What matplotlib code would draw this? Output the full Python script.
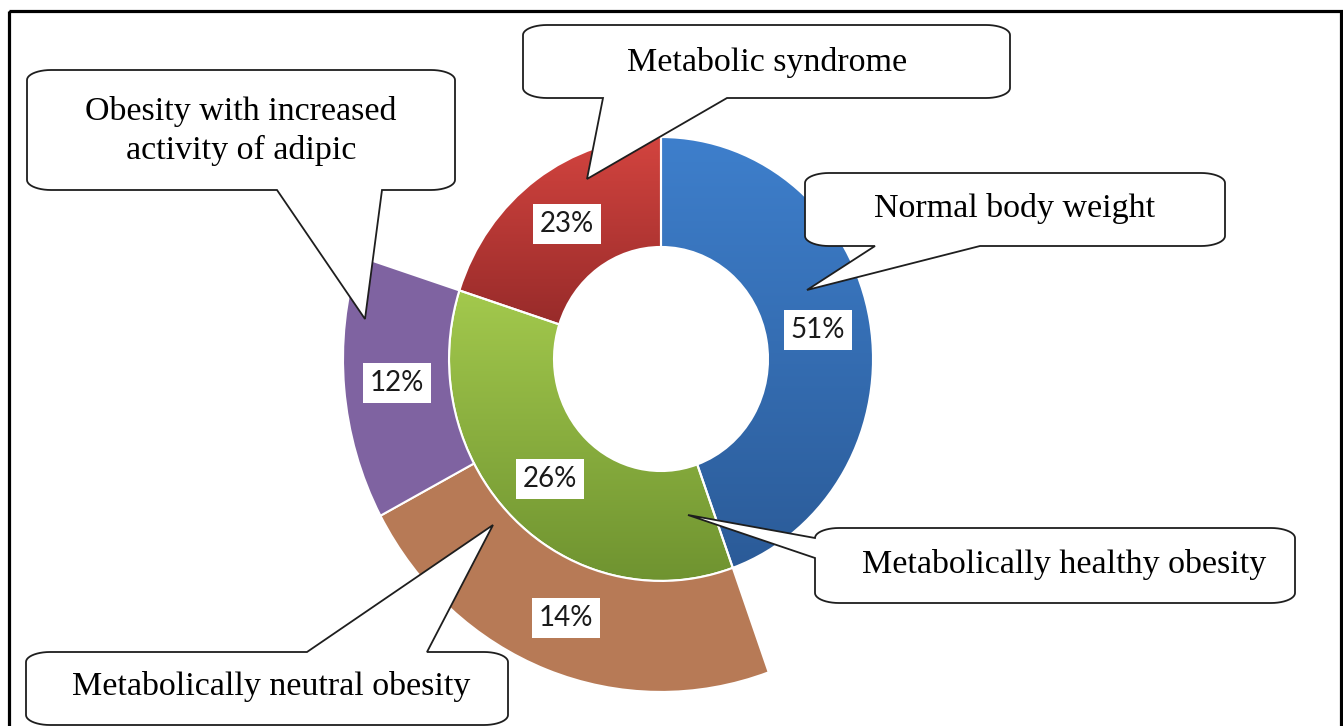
import numpy as np
import matplotlib.pyplot as plt
from matplotlib.patches import Polygon, Rectangle
from matplotlib.colors import LinearSegmentedColormap

# inner ring: angular share as drawn, and the printed percentages
inner_names = ['Normal body weight', 'Metabolically healthy obesity', 'Metabolic syndrome']
inner_share = [44.5, 35.5, 20.0]
inner_labels = ['51%', '26%', '23%']
inner_top = ['#3e7fcc', '#a3c94d', '#d3443f']
inner_bottom = ['#2b5b98', '#6f9330', '#982b2a']

# outer ring only splits the green part (rest of the ring is empty)
outer_names = ['Metabolically neutral obesity', 'Obesity with increased\nactivity of adipic']
outer_share = [22.7, 12.8]
outer_labels = ['14%', '12%']
outer_colors = ['#b77a56', '#7f63a1']

W, H = 1343, 726
cx, cy = 661, 359      # donut centre in pixels
ky = 1.047             # the picture is a bit stretched vertically
r_in, r_mid, r_out = 107, 212, 318

fig = plt.figure(figsize=(W / 100, H / 100), dpi=100)
ax = fig.add_axes([0, 0, 1, 1])

wp = dict(edgecolor='white', linewidth=1.5)
w_in, _ = ax.pie(inner_share, radius=r_mid, startangle=90, counterclock=False,
                 wedgeprops=dict(width=r_mid - r_in, **wp))
start2 = 90 - inner_share[0] * 3.6
outer_vals = outer_share + [100 - sum(outer_share)]
w_out, _ = ax.pie(outer_vals, radius=r_out, startangle=start2, counterclock=False,
                  wedgeprops=dict(width=r_out - r_mid, **wp))
w_out[-1].set_visible(False)
for w, c in zip(w_out, outer_colors):
    w.set_facecolor(c)

# vertical gradient fill on the inner wedges
grad = np.linspace(0, 1, 256).reshape(-1, 1)
for w, c0, c1 in zip(w_in, inner_bottom, inner_top):
    ext = w.get_path().get_extents()
    cmap = LinearSegmentedColormap.from_list('g', [c0, c1])
    im = ax.imshow(grad, extent=(ext.x0, ext.x1, ext.y0, ext.y1), origin='lower',
                   cmap=cmap, aspect='auto', zorder=0.9)
    im.set_clip_path(w)
    w.set_facecolor('none')

# percentage boxes at wedge middle
for w, lab in list(zip(w_in, inner_labels)) + list(zip(w_out, outer_labels)):
    t = np.deg2rad((w.theta1 + w.theta2) / 2)
    r = w.r - w.width / 2
    ax.text(r * np.cos(t), r * np.sin(t), lab, ha='center', va='center',
            fontsize=20, family='Lato', color='#1a1a1a', zorder=5,
            bbox=dict(boxstyle='square,pad=0.25', fc='white', ec='none'))

ax.set_xlim(-cx, W - cx)
ax.set_ylim(-(H - cy) / ky, cy / ky)
ax.set_aspect('auto')
ax.axis('off')

# overlay in pixel coordinates for the callouts
ax2 = fig.add_axes([0, 0, 1, 1])
ax2.set_xlim(0, W)
ax2.set_ylim(H, 0)
ax2.axis('off')
ax2.patch.set_alpha(0)


def arc(xc, yc, rx, ry, a0, a1, n=12):
    t = np.deg2rad(np.linspace(a0, a1, n))
    return list(zip(xc + rx * np.cos(t), yc + ry * np.sin(t)))


def callout(box, side, base, tip, rx=24, ry=10):
    x0, y0, x1, y1 = box
    b1, b2 = base
    pts = []
    if side == 'top':
        pts += [(x0 + rx, y0), (b1, y0), tip, (b2, y0)]
    else:
        pts += [(x0 + rx, y0)]
    pts += arc(x1 - rx, y0 + ry, rx, ry, -90, 0)
    pts += arc(x1 - rx, y1 - ry, rx, ry, 0, 90)
    if side == 'bottom':
        pts += [(b2, y1), tip, (b1, y1)]
    pts += arc(x0 + rx, y1 - ry, rx, ry, 90, 180)
    if side == 'left':
        pts += [(x0, b2), tip, (x0, b1)]
    pts += arc(x0 + rx, y0 + ry, rx, ry, 180, 270)
    ax2.add_patch(Polygon(pts, closed=True, fc='white', ec='#1e1e1e', lw=1.3,
                          joinstyle='miter', zorder=3))


callouts = [
    (inner_names[2], (523, 25, 1010, 98), 'bottom', (603, 727), (587, 179), (767, 62)),
    (outer_names[1], (27, 70, 455, 190), 'bottom', (277, 382), (365, 319), (241, 131)),
    (inner_names[0], (805, 173, 1225, 246), 'bottom', (875, 980), (807, 290), (1015, 209)),
    (inner_names[1], (815, 528, 1295, 603), 'left', (538, 558), (688, 515), (1064, 564)),
    (outer_names[0], (26, 652, 508, 725), 'top', (307, 427), (493, 525), (271, 687)),
]
for txt, box, side, base, tip, pos in callouts:
    callout(box, side, base, tip)
    ax2.text(pos[0], pos[1], txt, ha='center', va='center', fontsize=24.5,
             family='Liberation Serif', color='black', linespacing=1.3, zorder=4)

ax2.add_patch(Rectangle((8.5, 10.5), 1332, 730, fill=False, ec='black', lw=2.3))

fig.savefig('out.png', dpi=100)
